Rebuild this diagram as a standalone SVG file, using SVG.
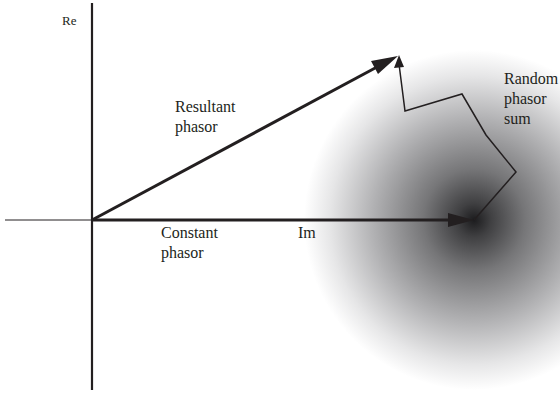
<svg xmlns="http://www.w3.org/2000/svg" width="560" height="394" viewBox="0 0 560 394">
<style>
.ax{stroke:#231f20;fill:none}
.ph{stroke:#231f20;stroke-width:3;fill:none}
.rnd{stroke:#231f20;stroke-width:1.5;fill:none;stroke-linejoin:miter}
</style>
<defs>
<radialGradient id="blur" cx="474" cy="220" r="170" gradientUnits="userSpaceOnUse">
<stop offset="0" stop-color="#1c1c1e"/>
<stop offset="0.1" stop-color="#404042"/>
<stop offset="0.3" stop-color="#767678"/>
<stop offset="0.6" stop-color="#b2b2b4"/>
<stop offset="0.85" stop-color="#e6e6e7"/>
<stop offset="1" stop-color="#ffffff"/>
</radialGradient>
</defs>
<rect width="560" height="394" fill="#fff"/>
<circle id="cloud" cx="474" cy="220" r="170" fill="url(#blur)"/>
<g id="axes">
<line class="ax" x1="92" y1="3" x2="92" y2="390" stroke-width="2.2"/>
<line class="ax" x1="5" y1="220" x2="92" y2="220" stroke-width="1"/>
</g>
<g id="connectors">
<g id="constant-phasor">
<line class="ph" x1="92" y1="220" x2="450" y2="220"/>
<polygon points="474,220 448,213 448,227" fill="#231f20"/>
</g>
<g id="resultant-phasor">
<line class="ph" x1="92" y1="220" x2="377" y2="67"/>
<polygon points="398,56 371,61 378,74" fill="#231f20"/>
</g>
<g id="random-sum">
<polyline class="rnd" points="474,220 516,172 486,135 462,94 405,111 399,64"/>
<polygon points="399,55 394,68 404,67" fill="#231f20"/>
</g>
</g>
<g id="labels" font-family="Liberation Serif, serif" font-size="16" fill="#231f20">
<text x="62" y="25" font-size="13">Re</text>
<text x="175" y="112">Resultant</text>
<text x="175" y="132">phasor</text>
<text x="161" y="238">Constant</text>
<text x="161" y="258">phasor</text>
<text x="298" y="238">Im</text>
<text x="504" y="84">Random</text>
<text x="504" y="104">phasor</text>
<text x="504" y="124">sum</text>
</g>
</svg>
